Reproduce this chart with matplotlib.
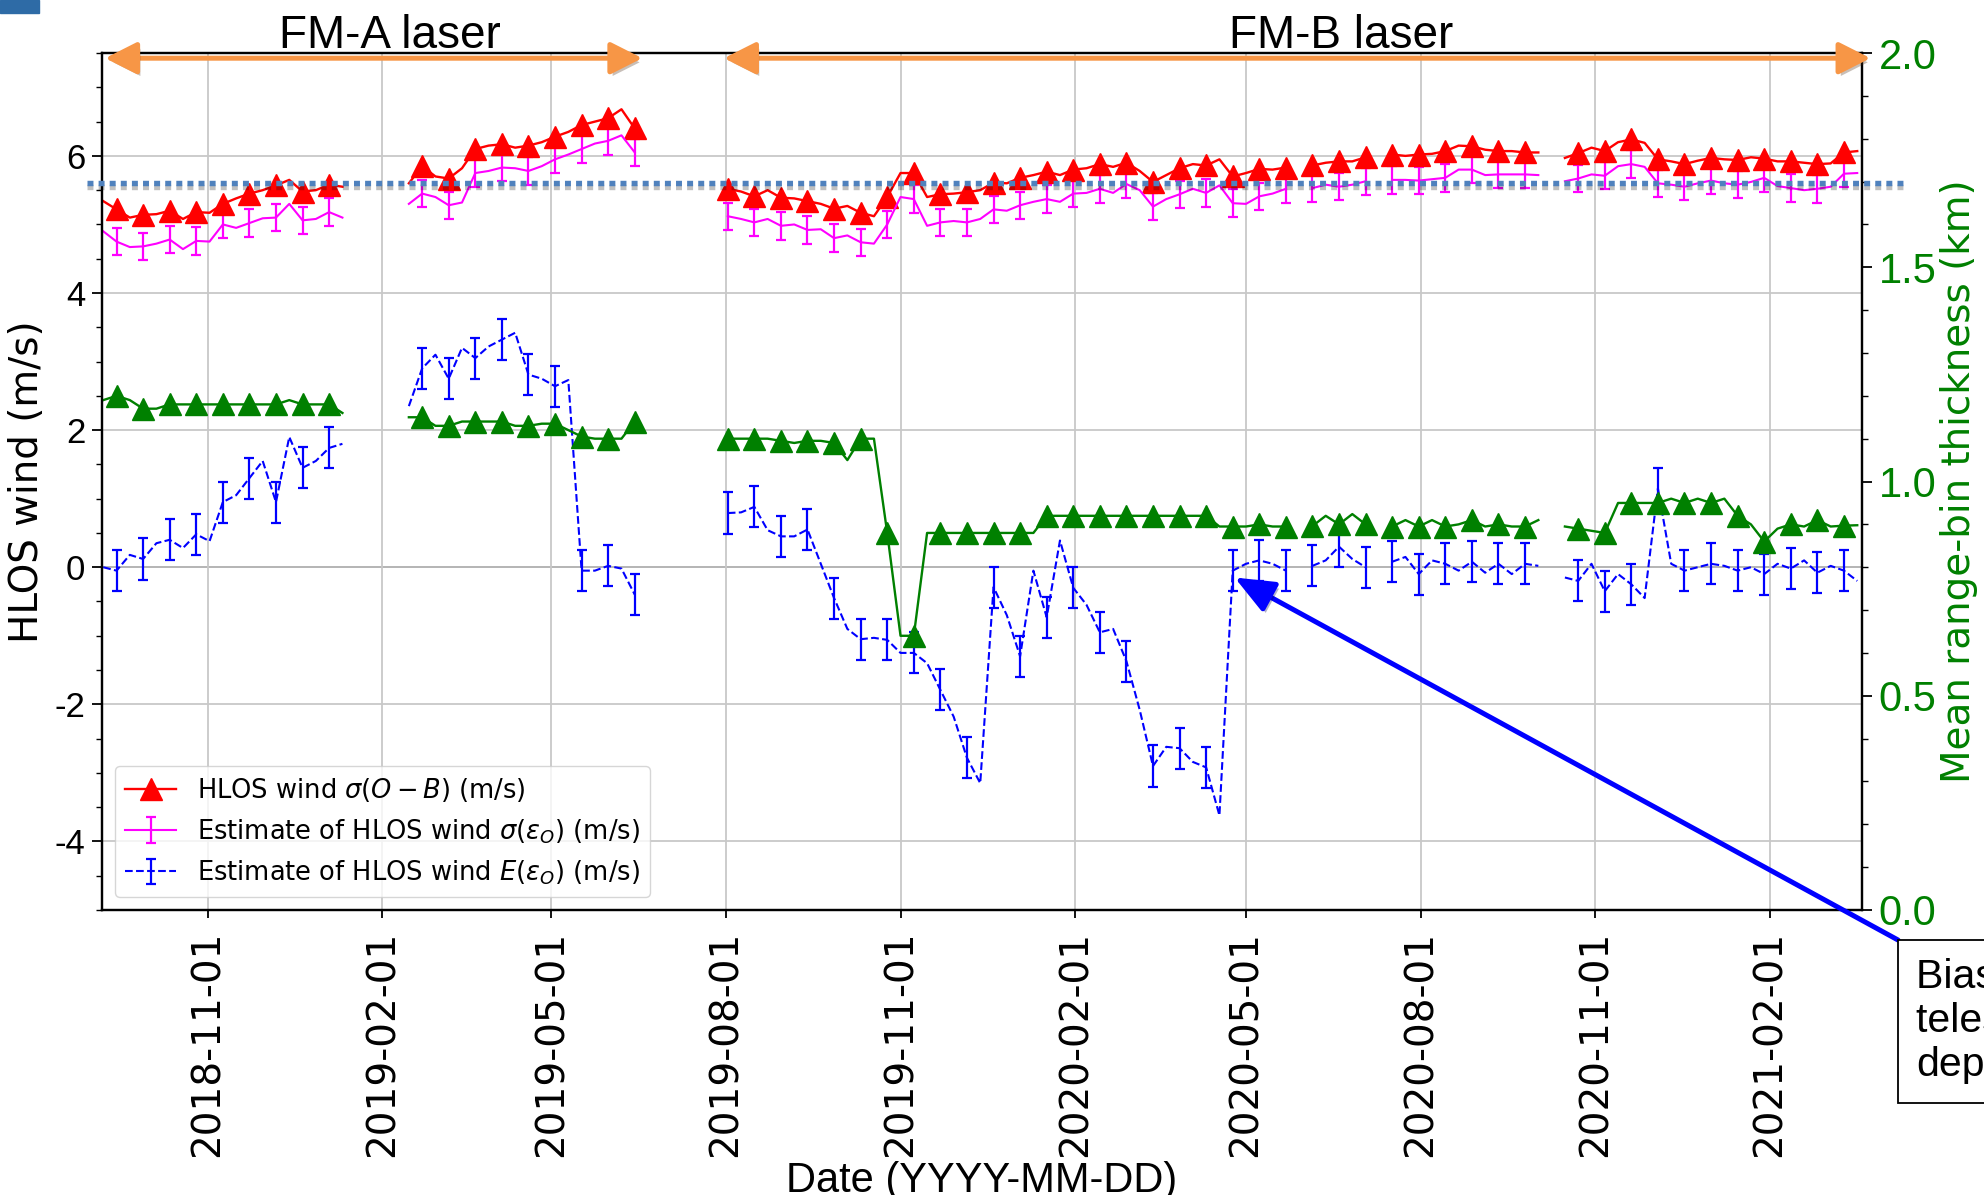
import numpy as np
import pandas as pd
import matplotlib
matplotlib.use("Agg")
import matplotlib.pyplot as plt
import matplotlib.dates as mdates
import matplotlib.patheffects as pe
import matplotlib.transforms as mtrans
from matplotlib.patches import Rectangle, FancyArrowPatch
from matplotlib.lines import Line2D
from matplotlib.ticker import MultipleLocator

plt.rcParams['axes.unicode_minus'] = False
plt.rcParams['font.family'] = 'DejaVu Sans'
plt.rcParams['mathtext.fontset'] = 'dejavusans'

nan = np.nan

# ---------------- data (weekly samples) ----------------
fma1_start, fma1_n = '2018-09-07', 19
fma2_start, fma2_n = '2019-02-15', 18
fmb_start, fmb_n = '2019-08-02', 86
gap_dates = ['2019-01-28', '2019-07-08']

sigma_ob_fma1 = [5.34, 5.22, 5.10, 5.14, 5.15, 5.20, 5.08, 5.18, 5.17, 5.30,
                 5.38, 5.45, 5.50, 5.57, 5.65, 5.48, 5.50, 5.58, 5.55]
sigma_ob_fma2 = [5.60, 5.85, 5.70, 5.67, 5.82, 6.10, 6.15, 6.17, 6.12, 6.15,
                 6.20, 6.28, 6.35, 6.45, 6.50, 6.55, 6.68, 6.40]
sigma_ob_fmb = [5.52, 5.48, 5.41, 5.50, 5.39, 5.38, 5.34, 5.30, 5.23, 5.27,
                5.17, 5.12, 5.40, 5.75, 5.75, 5.40, 5.44, 5.45, 5.47, 5.50,
                5.61, 5.60, 5.68, 5.72, 5.77, 5.72, 5.80, 5.82, 5.88, 5.84,
                5.90, 5.78, 5.62, 5.72, 5.82, 5.88, 5.86, 5.95, 5.70, 5.75,
                5.81, 5.80, 5.83, nan, 5.86, 5.90, 5.92, 5.92, 5.98, nan,
                6.02, 6.00, 6.02, 6.03, 6.07, 6.15, 6.14, 6.09, 6.07, 6.07,
                6.05, 6.05, nan, 5.97, 6.04, 6.12, 6.07, 6.20, 6.24, 6.19,
                5.95, 5.92, 5.88, 5.93, 5.97, 5.95, 5.94, 5.98, 5.96, 5.92,
                5.92, 5.90, 5.88, 5.89, 6.05, 6.07]

sigma_eps_fma1 = [4.90, 4.75, 4.67, 4.68, 4.72, 4.78, 4.64, 4.76, 4.75, 5.00,
                  4.95, 5.02, 5.09, 5.10, 5.30, 5.06, 5.08, 5.18, 5.10]
sigma_eps_fma2 = [5.30, 5.45, 5.40, 5.28, 5.32, 5.75, 5.78, 5.83, 5.82, 5.78,
                  5.85, 5.95, 6.02, 6.10, 6.18, 6.22, 6.30, 6.05]
sigma_eps_fmb = [5.12, 5.08, 5.03, 5.08, 4.98, 5.00, 4.92, 4.93, 4.80, 4.84,
                 4.74, 4.72, 5.00, 5.40, 5.37, 4.98, 5.03, 5.05, 5.03, 5.08,
                 5.22, 5.20, 5.28, 5.33, 5.37, 5.33, 5.45, 5.46, 5.52, 5.46,
                 5.59, 5.50, 5.26, 5.37, 5.44, 5.52, 5.46, 5.57, 5.31, 5.30,
                 5.41, 5.45, 5.52, nan, 5.53, 5.58, 5.55, 5.58, 5.63, nan,
                 5.65, 5.65, 5.64, 5.66, 5.68, 5.80, 5.80, 5.72, 5.73, 5.73,
                 5.73, 5.72, nan, 5.63, 5.67, 5.73, 5.71, 5.85, 5.88, 5.84,
                 5.60, 5.58, 5.55, 5.60, 5.64, 5.60, 5.58, 5.62, 5.68, 5.56,
                 5.53, 5.50, 5.52, 5.55, 5.74, 5.75]

mean_eps_fma1 = [0.00, -0.05, 0.18, 0.12, 0.35, 0.40, 0.28, 0.48, 0.38, 0.95,
                 1.05, 1.30, 1.55, 0.95, 1.90, 1.45, 1.55, 1.74, 1.80]
mean_eps_fma2 = [2.35, 2.90, 3.10, 2.75, 3.20, 3.05, 3.22, 3.32, 3.42, 2.81,
                 2.75, 2.64, 2.73, -0.05, -0.05, 0.02, -0.02, -0.40]
mean_eps_fmb = [0.79, 0.80, 0.88, 0.54, 0.45, 0.45, 0.55, 0.05, -0.45, -0.90,
                -1.05, -1.03, -1.06, -1.25, -1.25, -1.40, -1.79, -2.18, -2.78, -3.15,
                -0.29, -0.70, -1.30, -0.05, -0.73, 0.39, -0.30, -0.55, -0.95, -0.90,
                -1.37, -2.08, -2.90, -2.62, -2.64, -2.84, -2.92, -3.62, -0.05, 0.05,
                0.10, 0.05, -0.05, nan, 0.02, 0.10, 0.30, 0.12, 0.00, nan,
                0.08, 0.15, -0.10, 0.10, 0.05, -0.05, 0.08, -0.08, 0.05, -0.10,
                0.05, 0.02, nan, -0.15, -0.20, 0.05, -0.35, -0.10, -0.25, -0.45,
                1.15, 0.05, -0.05, 0.00, 0.05, 0.02, -0.05, 0.00, -0.10, 0.05,
                -0.02, 0.10, -0.08, 0.02, -0.05, -0.20]

bin_km_fma1 = [1.19, 1.20, 1.19, 1.17, 1.17, 1.18, 1.18, 1.18, 1.18, 1.18,
               1.18, 1.18, 1.18, 1.18, 1.19, 1.18, 1.18, 1.18, 1.16]
bin_km_fma2 = [1.15, 1.15, 1.13, 1.13, 1.14, 1.14, 1.14, 1.14, 1.13, 1.13,
               1.135, 1.135, 1.12, 1.105, 1.10, 1.10, 1.10, 1.14]
bin_km_fmb = [1.10, 1.10, 1.10, 1.10, 1.095, 1.09, 1.095, 1.095, 1.09, 1.05,
              1.10, 1.10, 0.88, 0.64, 0.64, 0.88, 0.88, 0.88, 0.88, 0.88,
              0.88, 0.88, 0.88, 0.88, 0.92, 0.92, 0.92, 0.92, 0.92, 0.92,
              0.92, 0.92, 0.92, 0.92, 0.92, 0.92, 0.92, 0.895, 0.895, 0.895,
              0.90, 0.895, 0.895, nan, 0.896, 0.92, 0.90, 0.924, 0.90, nan,
              0.895, 0.91, 0.895, 0.91, 0.895, 0.90, 0.91, 0.895, 0.90, 0.895,
              0.895, 0.91, nan, 0.895, 0.89, 0.885, 0.88, 0.95, 0.95, 0.95,
              0.95, 0.96, 0.95, 0.96, 0.95, 0.96, 0.92, 0.90, 0.86, 0.89,
              0.90, 0.895, 0.91, 0.895, 0.897, 0.898]

sigma_eps_err = 0.2
mean_eps_err = 0.3
ref_level = 5.6

tick_dates = ['2018-11-01', '2019-02-01', '2019-05-01', '2019-08-01', '2019-11-01',
              '2020-02-01', '2020-05-01', '2020-08-01', '2020-11-01', '2021-02-01']
fma_period = ('2018-09-08', '2019-06-18')
fmb_period = ('2019-07-31', '2021-03-26')
annot_tip = ('2020-04-25', -0.15)

# ---------------- assemble ----------------
dates = np.concatenate([
    pd.date_range(fma1_start, periods=fma1_n, freq='7D').values,
    np.array([gap_dates[0]], dtype='datetime64[ns]'),
    pd.date_range(fma2_start, periods=fma2_n, freq='7D').values,
    np.array([gap_dates[1]], dtype='datetime64[ns]'),
    pd.date_range(fmb_start, periods=fmb_n, freq='7D').values,
])


def join(a, b, c):
    return np.array(list(a) + [nan] + list(b) + [nan] + list(c), dtype=float)


sigma_ob = join(sigma_ob_fma1, sigma_ob_fma2, sigma_ob_fmb)
sigma_eps = join(sigma_eps_fma1, sigma_eps_fma2, sigma_eps_fmb)
mean_eps = join(mean_eps_fma1, mean_eps_fma2, mean_eps_fmb)
bin_km = join(bin_km_fma1, bin_km_fma2, bin_km_fmb)

d2n = lambda s: mdates.date2num(pd.Timestamp(s))

# ---------------- figure ----------------
fig = plt.figure(figsize=(19.84, 11.95), dpi=100)
ax = fig.add_axes([0.0514, 0.2385, 0.8871, 0.7171])

ax.grid(True, which='major', color='#c8c8c8', lw=1.3, zorder=0)
ax.axhline(0, color='black', lw=1.3, zorder=1.5)

h_mag = ax.errorbar(dates, sigma_eps, yerr=sigma_eps_err, color='magenta', lw=1.5,
                    elinewidth=1.6, capsize=3.3, capthick=1.6, errorevery=(1, 2),
                    label=r'Estimate of HLOS wind $\sigma(\varepsilon_O)$ (m/s)')
h_red, = ax.plot(dates, sigma_ob, color='red', lw=1.7, marker='^', ms=16.5,
                 markevery=(1, 2), label=r'HLOS wind $\sigma(O-B)$ (m/s)')
h_blue = ax.errorbar(dates, mean_eps, yerr=mean_eps_err, color='blue', lw=1.5, ls='--',
                     elinewidth=1.6, capsize=3.3, capthick=1.6, errorevery=(1, 2),
                     label=r'Estimate of HLOS wind $E(\varepsilon_O)$ (m/s)')

ax.set_xlim(d2n('2018-09-06 08:00'), d2n('2021-03-21 12:00'))
ax.set_ylim(-5, 7.5)
ax.set_xticks([d2n(d) for d in tick_dates])
ax.set_xticklabels(tick_dates, rotation=90, fontsize=28)
ax.set_yticks([-4, -2, 0, 2, 4, 6])
ax.set_yticklabels(['-4', '-2', '0', '2', '4', '6'], fontsize=25,
                   fontfamily='Liberation Sans')
ax.yaxis.set_minor_locator(MultipleLocator(0.5))
ax.tick_params(axis='x', length=6, width=1.3, pad=9)
ax.tick_params(axis='y', which='major', length=7, width=1.3, pad=5)
ax.tick_params(axis='y', which='minor', length=4, width=1.0)
for s in ax.spines.values():
    s.set_linewidth(1.6)
ax.set_ylabel('HLOS wind (m/s)', fontsize=28)
ax.yaxis.set_label_coords(-0.032, 0.5)

leg = ax.legend([h_red, h_mag, h_blue],
                [h_red.get_label(), h_mag.get_label(), h_blue.get_label()],
                loc='lower left', fontsize=18.5, borderaxespad=0.5)

ax2 = ax.twinx()
ax2.plot(dates, bin_km, color='green', lw=1.7, marker='^', ms=16.5, markevery=(1, 2))
ax2.set_ylim(0, 2.0)
ax2.set_yticks([0, 0.5, 1.0, 1.5, 2.0])
ax2.set_yticklabels(['0.0', '0.5', '1.0', '1.5', '2.0'], fontsize=30,
                    fontfamily='Liberation Sans', color='green')
ax2.yaxis.set_minor_locator(MultipleLocator(0.1))
ax2.tick_params(axis='y', which='major', length=7, width=1.3, pad=5)
ax2.tick_params(axis='y', which='minor', length=4, width=1.0)
for s in ax2.spines.values():
    s.set_linewidth(1.6)
ax2.set_ylabel('Mean range-bin thickness (km)', fontsize=28, color='green')
ax2.yaxis.set_label_coords(1.0445, 0.5)

# ---------------- slide overlays ----------------
shadow_line = [pe.SimpleLineShadow(offset=(0, -3), alpha=0.25), pe.Normal()]
blend_y = mtrans.blended_transform_factory(ax.transAxes, ax.transData)
fig.add_artist(Line2D([-0.0085, 1.0244], [ref_level, ref_level], transform=blend_y,
                      color='#4F81BD', lw=3.9, ls=(0, (1.1, 0.95)), zorder=5,
                      path_effects=shadow_line))

blend_x = mtrans.blended_transform_factory(ax.transData, ax.transAxes)
for (a, b) in (fma_period, fmb_period):
    arr = FancyArrowPatch((d2n(a), 0.994), (d2n(b), 0.994), transform=blend_x,
                          arrowstyle='<|-|>,head_length=0.97,head_width=0.49',
                          mutation_scale=20, color='#F79646', lw=3.6,
                          shrinkA=0, shrinkB=0, zorder=6,
                          path_effects=[pe.withSimplePatchShadow(offset=(2, -3), alpha=0.3)])
    fig.add_artist(arr)

fig.text(0.1966, 1 - 48 / 1195, 'FM-A laser', ha='center', va='baseline',
         fontsize=33, fontfamily='Liberation Sans')
fig.text(0.676, 1 - 48 / 1195, 'FM-B laser', ha='center', va='baseline',
         fontsize=33, fontfamily='Liberation Sans')
fig.text(0.495, 0.0025, 'Date (YYYY-MM-DD)', ha='center', va='baseline',
         fontsize=30, fontfamily='Liberation Sans')

ax2.annotate('', xy=(d2n(annot_tip[0]), annot_tip[1]), xycoords=ax.transData,
             xytext=(1898 / 1984, 1 - 940 / 1195), textcoords='figure fraction',
             arrowprops=dict(arrowstyle='-|>,head_length=1.2,head_width=0.5',
                             mutation_scale=20, color='blue', lw=3.6,
                             shrinkA=0, shrinkB=0,
                             path_effects=[pe.withSimplePatchShadow(offset=(2, -3), alpha=0.3)]),
             annotation_clip=False)
fig.text(0.9659, 0.198, 'Bias correction for\ntelescope temperature\ndependence',
         ha='left', va='top', fontsize=29.5, fontfamily='Liberation Sans',
         bbox=dict(boxstyle='square,pad=0.45', fc='white', ec='black', lw=1.3))

fig.add_artist(Rectangle((0, 1 - 13 / 1195), 39 / 1984, 13 / 1195,
                         transform=fig.transFigure, color='#2E6BA6'))

fig.savefig('out.png', dpi=100)
